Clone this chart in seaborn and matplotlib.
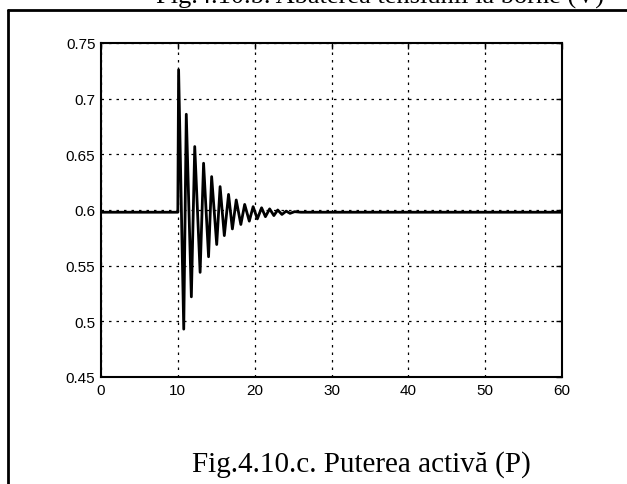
import matplotlib
matplotlib.use("Agg")
import matplotlib.pyplot as plt
import seaborn as sns
import pandas as pd
from matplotlib.lines import Line2D

# ---- data ----
time_s = [0, 10.0, 10.1, 10.77, 11.1, 11.76, 12.2, 12.9, 13.35, 14.0, 14.4, 15.06,
          15.5, 16.05, 16.6, 17.1, 17.6, 18.2, 18.7, 19.3, 19.8, 20.35, 20.9, 21.4,
          21.95, 22.5, 23.0, 23.55, 24.1, 24.6, 25.2, 26.0, 60]
active_power = [0.598, 0.598, 0.726, 0.493, 0.686, 0.522, 0.657, 0.544, 0.642, 0.558,
                0.630, 0.569, 0.621, 0.577, 0.614, 0.583, 0.609, 0.587, 0.605, 0.590,
                0.603, 0.592, 0.602, 0.594, 0.601, 0.595, 0.600, 0.596, 0.599, 0.597,
                0.5985, 0.598, 0.598]
x_ticks = [0, 10, 20, 30, 40, 50, 60]
y_ticks = [0.45, 0.5, 0.55, 0.6, 0.65, 0.7, 0.75]
y_tick_labels = ["0.45", "0.5", "0.55", "0.6", "0.65", "0.7", "0.75"]
caption_bottom = "Fig.4.10.c. Puterea activă (P)"
caption_top = "Fig.4.10.b. Abaterea tensiunii la borne (V)"

sns.set_style("white")
plt.rcParams["font.family"] = ["Liberation Sans", "DejaVu Sans"]

df = pd.DataFrame({"t": time_s, "P": active_power})

fig = plt.figure(figsize=(6.27, 4.85), dpi=100)
ax = fig.add_axes([101 / 627, 1 - 378 / 485, 461 / 627, 334 / 485])

sns.lineplot(data=df, x="t", y="P", ax=ax, color="black", linewidth=2.0,
             estimator=None, sort=False)

ax.set_xlim(0, 60)
ax.set_ylim(0.45, 0.75)
ax.set_xticks(x_ticks)
ax.set_xticklabels([str(v) for v in x_ticks])
ax.set_yticks(y_ticks)
ax.set_yticklabels(y_tick_labels)
ax.set_xlabel("")
ax.set_ylabel("")
ax.grid(True, linestyle=(0, (2, 4)), color="black", linewidth=0.9)
ax.tick_params(direction="in", length=4, width=1, labelsize=11, colors="black",
               top=True, right=True, pad=4)
for s in ax.spines.values():
    s.set_color("black")
    s.set_linewidth(1.5)
    s.set_visible(True)

# page frame lines of the scanned figure
fig.add_artist(Line2D([8 / 627, 1.0], [1 - 11 / 485, 1 - 11 / 485],
                      transform=fig.transFigure, color="black", linewidth=2))
fig.add_artist(Line2D([8 / 627, 8 / 627], [0, 1 - 11 / 485],
                      transform=fig.transFigure, color="black", linewidth=2))

fig.text(361 / 627, 1 - 472 / 485, caption_bottom, ha="center", va="baseline",
         fontsize=21, family=["Liberation Serif", "DejaVu Serif"], color="black")
fig.text(380 / 627, 1 - 4 / 485, caption_top, ha="center", va="baseline",
         fontsize=19, family=["Liberation Serif", "DejaVu Serif"], color="black")

fig.savefig("out.png", dpi=100)
